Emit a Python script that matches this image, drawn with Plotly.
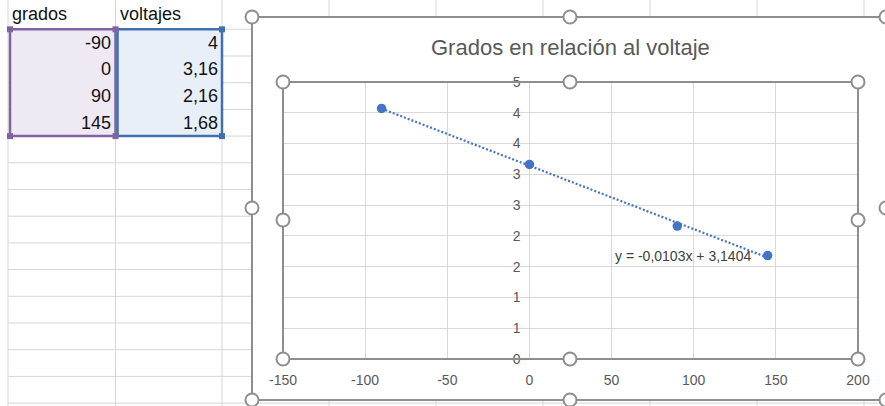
import plotly.graph_objects as go

# ---------------- data ----------------
grados = [-90, 0, 90, 145]
voltajes = [4.07, 3.16, 2.16, 1.68]           # plotted values (first point sits at ~4.07)
voltajes_celda = ["4", "3,16", "2,16", "1,68"]  # text shown in the sheet cells
col_headers = ["grados", "voltajes"]
title_text = "Grados en relación al voltaje"
trend_slope = -0.0103
trend_intercept = 3.1404
trend_label = "y = -0,0103x + 3,1404"
x_tick_vals = [-150, -100, -50, 0, 50, 100, 150, 200]
x_tick_text = ["-150", "-100", "-50", "0", "50", "100", "150", "200"]
y_tick_vals = [0, 0.5, 1, 1.5, 2, 2.5, 3, 3.5, 4, 4.5]
y_tick_text = ["0", "1", "1", "2", "2", "3", "3", "4", "4", "5"]

# ---------------- helpers ----------------
W, H = 885, 406


def px(x):
    return x / W


def py(y):
    return 1 - y / H


def fmt(v):
    return str(v).replace(".", ",")


FONT = "Liberation Sans"
GRID_SHEET = "#d6d6d6"
FRAME = "#8e8e8e"
BLUE = "#4472c4"

shapes = []
annotations = []

# ---- spreadsheet gridlines (drawn below everything) ----
col_lines = [8, 115.5, 222, 329, 436, 543, 650, 757, 864]
row_lines = [29.3 + 26.7 * k for k in range(15)]
for x in col_lines:
    shapes.append(dict(type="line", xref="paper", yref="paper", layer="below",
                       x0=px(x), x1=px(x), y0=0, y1=1,
                       line=dict(color=GRID_SHEET, width=1)))
for y in row_lines:
    shapes.append(dict(type="line", xref="paper", yref="paper", layer="below",
                       x0=px(8), x1=1, y0=py(y), y1=py(y),
                       line=dict(color=GRID_SHEET, width=1)))

# ---- table selection fills & borders ----
row_h = 26.7
top = 29.3
bot = top + row_h * len(grados)
shapes.append(dict(type="rect", xref="paper", yref="paper", layer="below",
                   x0=px(10), x1=px(115.5), y0=py(bot), y1=py(top),
                   fillcolor="#efe9f4", line=dict(color="#8064a2", width=2.5)))
shapes.append(dict(type="rect", xref="paper", yref="paper", layer="below",
                   x0=px(117.5), x1=px(222), y0=py(bot), y1=py(top),
                   fillcolor="#e9eff8", line=dict(color="#4070b0", width=2.5)))
for (cx, cy, col) in [(10, top, "#8064a2"), (115.5, top, "#8064a2"),
                      (10, bot, "#8064a2"), (115.5, bot, "#8064a2"),
                      (222, top, "#4070b0"), (222, bot, "#4070b0")]:
    shapes.append(dict(type="rect", xref="paper", yref="paper", layer="below",
                       x0=px(cx - 3), x1=px(cx + 3), y0=py(cy + 3), y1=py(cy - 3),
                       fillcolor=col, line=dict(width=0)))

# ---- table texts ----
annotations.append(dict(x=px(10), y=py(14), xref="paper", yref="paper", text=col_headers[0],
                        showarrow=False, xanchor="left", yanchor="middle",
                        font=dict(family=FONT, size=18, color="#111")))
annotations.append(dict(x=px(118), y=py(14), xref="paper", yref="paper", text=col_headers[1],
                        showarrow=False, xanchor="left", yanchor="middle",
                        font=dict(family=FONT, size=18, color="#111")))
for i, (g, vt) in enumerate(zip(grados, voltajes_celda)):
    yc = top + row_h * (i + 0.5)
    annotations.append(dict(x=px(113), y=py(yc), xref="paper", yref="paper", text=fmt(g),
                            showarrow=False, xanchor="right", yanchor="middle",
                            font=dict(family=FONT, size=18, color="#111")))
    annotations.append(dict(x=px(220), y=py(yc), xref="paper", yref="paper", text=vt,
                            showarrow=False, xanchor="right", yanchor="middle",
                            font=dict(family=FONT, size=18, color="#111")))

# ---- chart area (white) ----
CH_L, CH_T, CH_R, CH_B = 252, 17, 886, 400
shapes.append(dict(type="rect", xref="paper", yref="paper", layer="below",
                   x0=px(CH_L), x1=px(CH_R), y0=py(CH_B), y1=py(CH_T),
                   fillcolor="white", line=dict(width=0)))
shapes.append(dict(type="rect", xref="paper", yref="paper", layer="above",
                   x0=px(CH_L), x1=px(CH_R), y0=py(CH_B), y1=py(CH_T),
                   fillcolor="rgba(0,0,0,0)", line=dict(color=FRAME, width=2)))

# ---- plot area frame ----
PL_L, PL_T, PL_R, PL_B = 283, 82, 858, 359
shapes.append(dict(type="rect", xref="paper", yref="paper", layer="above",
                   x0=px(PL_L), x1=px(PL_R), y0=py(PL_B), y1=py(PL_T),
                   fillcolor="rgba(0,0,0,0)", line=dict(color=FRAME, width=2)))


def handle(cx, cy, r=6.5):
    shapes.append(dict(type="circle", xref="paper", yref="paper", layer="above",
                       x0=px(cx - r), x1=px(cx + r), y0=py(cy + r), y1=py(cy - r),
                       fillcolor="white", line=dict(color=FRAME, width=2)))


for (cx, cy) in [(CH_L, CH_T), (570, CH_T), (CH_R, CH_T), (CH_L, 208), (CH_R, 208),
                 (CH_L, CH_B), (570, CH_B), (CH_R, CH_B)]:
    handle(cx, cy)
for (cx, cy) in [(PL_L, PL_T), (570, PL_T), (PL_R, PL_T), (PL_L, 220), (PL_R, 220),
                 (PL_L, PL_B), (570, PL_B), (PL_R, PL_B)]:
    handle(cx, cy, 6.5)

# ---- title & trendline label ----
annotations.append(dict(x=px(570), y=py(47), xref="paper", yref="paper", text=title_text,
                        showarrow=False, xanchor="center", yanchor="middle",
                        font=dict(family=FONT, size=22, color="#595959")))
annotations.append(dict(x=px(753), y=py(256), xref="paper", yref="paper", text=trend_label,
                        showarrow=False, xanchor="right", yanchor="middle",
                        font=dict(family=FONT, size=14, color="#404040")))

# ---------------- traces ----------------
tx = [min(grados), max(grados)]
ty = [trend_slope * x + trend_intercept for x in tx]

fig = go.Figure()
fig.add_trace(go.Scatter(x=tx, y=ty, mode="lines",
                         line=dict(color=BLUE, width=2.2, dash="2px,2px"),
                         hoverinfo="skip", showlegend=False))
fig.add_trace(go.Scatter(x=grados, y=voltajes, mode="markers",
                         marker=dict(color=BLUE, size=9.5),
                         showlegend=False))

x0_pos = PL_L + (0 - x_tick_vals[0]) / (x_tick_vals[-1] - x_tick_vals[0]) * (PL_R - PL_L)

fig.update_layout(
    width=W, height=H,
    margin=dict(l=0, r=0, t=0, b=0, pad=0, autoexpand=False),
    paper_bgcolor="white",
    plot_bgcolor="rgba(0,0,0,0)",
    showlegend=False,
    shapes=shapes,
    annotations=annotations,
    xaxis=dict(domain=[px(PL_L), px(PL_R)], range=[x_tick_vals[0], x_tick_vals[-1]],
               tickmode="array", tickvals=x_tick_vals, ticktext=x_tick_text,
               showgrid=True, gridcolor="#d9d9d9", gridwidth=1,
               zeroline=False, showline=False, ticks="",
               ticklabelstandoff=11, automargin=False,
               tickfont=dict(family=FONT, size=14, color="#595959"),
               anchor="y", fixedrange=True),
    yaxis=dict(domain=[py(PL_B), py(PL_T)], range=[y_tick_vals[0], y_tick_vals[-1]],
               tickmode="array", tickvals=y_tick_vals, ticktext=y_tick_text,
               showgrid=True, gridcolor="#d9d9d9", gridwidth=1,
               zeroline=False, showline=False, ticks="",
               anchor="free", position=px(x0_pos),
               ticklabelstandoff=9, automargin=False,
               tickfont=dict(family=FONT, size=14, color="#595959"),
               fixedrange=True),
)

fig.write_html("out.html", config={"displayModeBar": False},
               post_script="document.body.style.margin='0';document.body.style.overflow='hidden';")
